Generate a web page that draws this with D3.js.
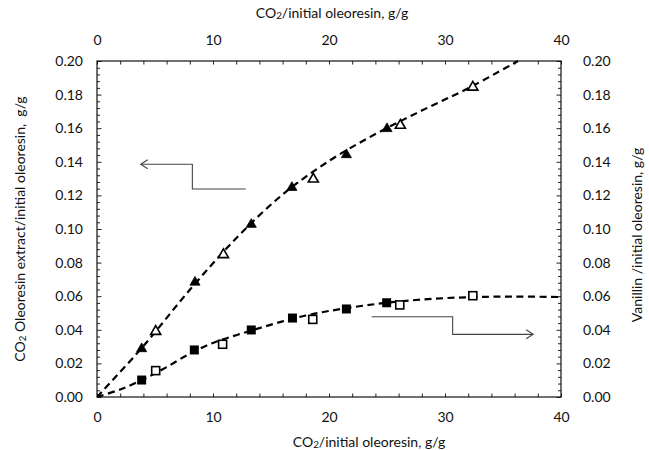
<!DOCTYPE html>
<html><head><meta charset="utf-8">
<script src="https://cdn.jsdelivr.net/npm/d3@7"></script>
<style>
html,body{margin:0;padding:0;background:#fff;}
svg{display:block;font-family:Lato,"Open Sans",sans-serif;}
</style></head>
<body><svg id="c" width="649" height="450"></svg>
<script>
// ---- data ----
const extractFilledX = [3.85, 8.45, 13.3, 16.8, 21.5, 25.0];
const extractFilledY = [0.029, 0.0686, 0.103, 0.125, 0.1445, 0.160];
const extractOpenX = [5.06, 10.9, 18.65, 26.15, 32.4];
const extractOpenY = [0.0393, 0.085, 0.130, 0.162, 0.1847];
const vanillinFilledX = [3.85, 8.39, 13.3, 16.85, 21.5, 24.97];
const vanillinFilledY = [0.0101, 0.028, 0.0399, 0.047, 0.0524, 0.0561];
const vanillinOpenX = [5.06, 10.83, 18.6, 26.1, 32.4];
const vanillinOpenY = [0.0157, 0.0314, 0.0462, 0.0548, 0.0603];
// dashed trend curves
const extractCurveX = [0, 4, 8, 12, 16, 20, 24, 28, 32, 36.3];
const extractCurveY = [0, 0.0303, 0.0638, 0.0945, 0.1205, 0.1405, 0.1565, 0.1705, 0.1838, 0.200];
const vanillinCurveX = [0, 2, 4, 6, 8, 10, 12, 14, 16, 18, 20, 24, 28, 32, 36, 40];
const vanillinCurveY = [0, 0.0045, 0.0105, 0.0178, 0.0258, 0.0322, 0.0368, 0.041, 0.045, 0.0485, 0.0512, 0.0553, 0.058, 0.0594, 0.0598, 0.0595];
// axis ticks
const xTicks = [0, 10, 20, 30, 40];
const yTicks = [0, 0.02, 0.04, 0.06, 0.08, 0.10, 0.12, 0.14, 0.16, 0.18, 0.20];
// annotation arrows (data coordinates)
const arrowLeft = [[12.82, 0.1238], [8.22, 0.1238], [8.22, 0.1385], [3.77, 0.1385]];
const arrowRight = [[23.68, 0.0478], [30.66, 0.0478], [30.66, 0.0373], [37.6, 0.0373]];

const L = 97, R = 561, T = 61, B = 397;
const svg = d3.select("#c");
const x = d3.scaleLinear().domain([0, 40]).range([L, R]);
const y = d3.scaleLinear().domain([0, 0.2]).range([B, T]);
const fs = 14;
const FONT = "Lato, 'Open Sans', sans-serif";

// minor ticks
const xMinor = d3.range(0, 40.001, 2);
const yMinor = d3.range(0, 0.2001, 0.004);
const yMajorSet = yTicks.map(v => Math.round(v * 1000));
const isMajorY = v => yMajorSet.includes(Math.round(v * 1000));

function cleanAxis(g){ g.select(".domain").remove(); }
svg.append("g").attr("transform", `translate(0,${B})`)
  .call(d3.axisBottom(x).tickValues(xMinor).tickSize(-3.5).tickFormat("")).call(cleanAxis);
svg.append("g").attr("transform", `translate(0,${T})`)
  .call(d3.axisTop(x).tickValues(xMinor).tickSize(-3.5).tickFormat("")).call(cleanAxis);
svg.append("g").attr("transform", `translate(${L},0)`)
  .call(d3.axisLeft(y).tickValues(yMinor).tickSize(-3).tickFormat("")).call(cleanAxis)
  .selectAll(".tick line").attr("x2", d => isMajorY(d) ? 4.5 : 3);
svg.append("g").attr("transform", `translate(${R},0)`)
  .call(d3.axisRight(y).tickValues(yMinor).tickSize(-3).tickFormat("")).call(cleanAxis)
  .selectAll(".tick line").attr("x2", d => isMajorY(d) ? -4.5 : -3);
svg.selectAll(".tick line").attr("stroke", "#222").attr("stroke-width", 1);

// labels
function labelAxis(g){ g.select(".domain").remove(); g.selectAll(".tick line").remove();
  g.selectAll("text").attr("font-size", fs).attr("font-family", FONT).attr("fill", "#111"); }
svg.append("g").attr("transform", `translate(0,${B})`)
  .call(d3.axisBottom(x).tickValues(xTicks).tickSize(0).tickPadding(15).tickFormat(d3.format("d"))).call(labelAxis);
svg.append("g").attr("transform", `translate(0,${T})`)
  .call(d3.axisTop(x).tickValues(xTicks).tickSize(0).tickPadding(16).tickFormat(d3.format("d"))).call(labelAxis);
svg.append("g").attr("transform", `translate(${L},0)`)
  .call(d3.axisLeft(y).tickValues(yTicks).tickSize(0).tickPadding(14).tickFormat(d3.format(".2f"))).call(labelAxis);
svg.append("g").attr("transform", `translate(${R},0)`)
  .call(d3.axisRight(y).tickValues(yTicks).tickSize(0).tickPadding(22).tickFormat(d3.format(".2f"))).call(labelAxis);

// frame
svg.append("rect").attr("x", L).attr("y", T).attr("width", R - L).attr("height", B - T)
  .attr("fill", "none").attr("stroke", "#111").attr("stroke-width", 1.2);

// curves
const line = d3.line().x(d => x(d[0])).y(d => y(d[1])).curve(d3.curveCatmullRom.alpha(0.5));
svg.append("clipPath").attr("id", "pc").append("rect")
  .attr("x", L).attr("y", T - 1).attr("width", R - L).attr("height", B - T + 1);
svg.append("path").datum(extractCurveX.map((v, i) => [v, extractCurveY[i]]))
  .attr("d", line).attr("fill", "none").attr("stroke", "#000").attr("stroke-width", 2.2)
  .attr("stroke-dasharray", "7,4.5").attr("clip-path", "url(#pc)");
svg.append("path").datum(vanillinCurveX.map((v, i) => [v, vanillinCurveY[i]]))
  .attr("d", line).attr("fill", "none").attr("stroke", "#000").attr("stroke-width", 2.2)
  .attr("stroke-dasharray", "7,4.5").attr("clip-path", "url(#pc)");

// markers
const tri = d3.symbol().type(d3.symbolTriangle).size(44);
function triangles(xs, ys, filled){
  svg.append("g").selectAll("path").data(xs.map((v, i) => [v, ys[i]])).join("path")
    .attr("d", tri).attr("transform", d => `translate(${x(d[0])},${y(d[1]) + 0.5})`)
    .attr("fill", filled ? "#000" : "#fff").attr("stroke", "#000").attr("stroke-width", filled ? 0.8 : 1.6);
}
function squares(xs, ys, filled){
  const s = filled ? 9 : 8;
  svg.append("g").selectAll("rect").data(xs.map((v, i) => [v, ys[i]])).join("rect")
    .attr("x", d => x(d[0]) - s / 2).attr("y", d => y(d[1]) - s / 2).attr("width", s).attr("height", s)
    .attr("fill", filled ? "#000" : "#fff").attr("stroke", "#000").attr("stroke-width", filled ? 0 : 1.6);
}
triangles(extractOpenX, extractOpenY, false);
triangles(extractFilledX, extractFilledY, true);
squares(vanillinOpenX, vanillinOpenY, false);
squares(vanillinFilledX, vanillinFilledY, true);

// arrows
const aline = d3.line().x(d => x(d[0])).y(d => y(d[1]));
function arrow(pts, dir){
  svg.append("path").datum(pts).attr("d", aline).attr("fill", "none").attr("stroke", "#444").attr("stroke-width", 1.1);
  const e = pts[pts.length - 1], ex = x(e[0]), ey = y(e[1]);
  svg.append("path").attr("d", `M${ex - dir * 7},${ey - 4.5}L${ex},${ey}L${ex - dir * 7},${ey + 4.5}`)
    .attr("fill", "none").attr("stroke", "#444").attr("stroke-width", 1.1);
}
arrow(arrowLeft, -1);
arrow(arrowRight, 1);

// titles
function co2Title(cx, cy, rest){
  const tx = svg.append("text").attr("x", cx).attr("y", cy).attr("text-anchor", "middle")
    .attr("dominant-baseline", "middle").attr("font-size", fs).attr("font-family", FONT).attr("fill", "#111")
    .style("white-space", "pre");
  tx.append("tspan").text("CO");
  tx.append("tspan").text("2").attr("font-size", fs * 0.7).attr("dy", 3);
  tx.append("tspan").text(rest).attr("dy", -3);
  return tx;
}
co2Title(332, 14, "/initial oleoresin, g/g");
co2Title(369, 443, "/initial oleoresin, g/g");
const lt = svg.append("text").attr("transform", `translate(21,${(T + B) / 2}) rotate(-90)`)
  .attr("text-anchor", "middle").attr("dominant-baseline", "middle").attr("font-size", fs).attr("font-family", FONT).attr("fill", "#111")
  .style("white-space", "pre");
lt.append("tspan").text("CO");
lt.append("tspan").text("2").attr("font-size", fs * 0.7).attr("dy", 3);
lt.append("tspan").text(" Oleoresin extract/initial oleoresin,  g/g").attr("dy", -3);
svg.append("text").attr("transform", `translate(638,${(T + B) / 2 + 6}) rotate(-90)`)
  .attr("text-anchor", "middle").attr("dominant-baseline", "middle").attr("font-size", fs).attr("font-family", FONT).attr("fill", "#111")
  .text("Vanillin /initial oleoresin, g/g");
</script></body></html>
